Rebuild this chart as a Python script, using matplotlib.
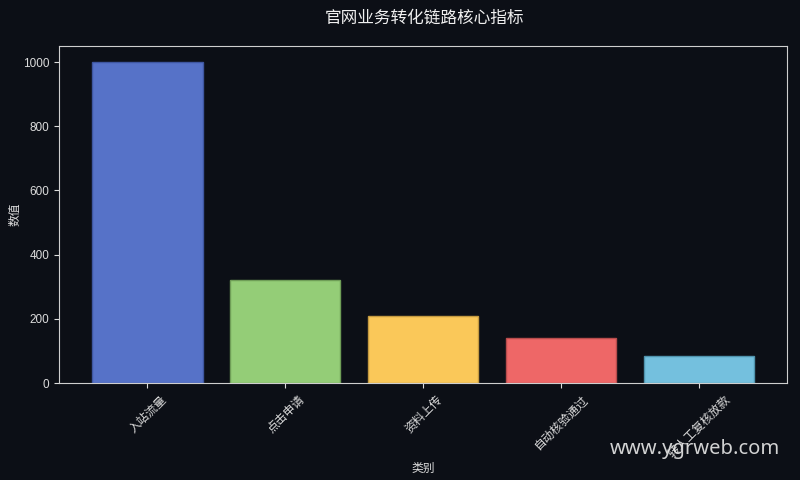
import matplotlib
matplotlib.use('Agg')
import matplotlib.pyplot as plt

plt.rcParams['font.family'] = ['Liberation Sans', 'Noto Sans CJK SC', 'DejaVu Sans']

# --- Data ---
categories = ['入站流量', '点击申请', '资料上传', '自动核验通过', '转人工复核放款']
values = [1000, 320, 210, 140, 84]
bar_colors = ['#5672c8', '#94cd77', '#fac859', '#ee6767', '#74c0de']
edge_colors = ['#3e56a0', '#6f9e57', '#c49a40', '#b84c4c', '#4f93ad']

bg = '#0c0f16'
fg = '#dcdcdc'

fig = plt.figure(figsize=(8, 4.8), dpi=100, facecolor=bg)
ax = fig.add_axes([0.074, 0.202, 0.91, 0.702])
ax.set_facecolor(bg)

ax.bar(range(len(categories)), values, width=0.8, color=bar_colors,
       edgecolor=edge_colors, linewidth=1)

ax.set_xticks(range(len(categories)))
ax.set_xticklabels(categories, rotation=45, ha='center',
                   family=['Noto Sans CJK SC', 'DejaVu Sans'])
ax.tick_params(colors=fg, labelsize=8.5)
for s in ax.spines.values():
    s.set_color('#cfcfcf')

ax.set_xlabel('类别', color=fg, fontsize=8.5, family=['Noto Sans CJK SC'])
ax.set_ylabel('数值', color=fg, fontsize=8.5, family=['Noto Sans CJK SC'])
ax.xaxis.set_label_coords(0.5, -0.235)
ax.yaxis.set_label_coords(-0.052, 0.5)
fig.text(0.53, 0.962, '官网业务转化链路核心指标', ha='center', va='center',
         color='#f0f0f0', fontsize=12, family=['Noto Sans CJK SC'])

# watermark
fig.text(0.975, 0.065, 'www.ygrweb.com', ha='right', va='center',
         color='#e8e8e8', fontsize=14.5, family=['Noto Sans', 'DejaVu Sans'], alpha=0.9)

fig.savefig('out.png', dpi=100, facecolor=bg)
